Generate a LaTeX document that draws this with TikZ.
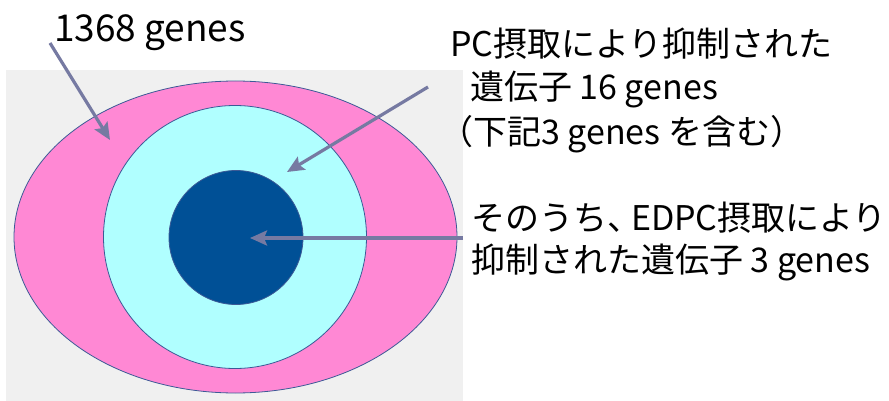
\documentclass[tikz,border=0pt]{standalone}
\usepackage{fontspec}
\setmainfont{Noto Sans CJK JP}
\usetikzlibrary{arrows.meta,shapes.geometric}
\definecolor{bggray}{RGB}{240,240,240}
\definecolor{pinkc}{RGB}{255,136,212}
\definecolor{cyanc}{RGB}{176,255,255}
\definecolor{darkc}{RGB}{0,80,150}
\definecolor{edgec}{RGB}{60,90,150}
\definecolor{arrowc}{RGB}{118,122,162}
\tikzset{
  region/.style={draw=edgec, line width=0.8pt, inner sep=0pt, outer sep=0pt},
  pointer/.style={draw=arrowc, line width=3.2pt, -{Stealth[length=17pt,width=15pt,inset=3pt]}},
  label/.style={inner sep=0pt, outer sep=0pt, anchor=base west, font=\fontsize{34}{40}\selectfont}
}
\begin{document}
\begin{tikzpicture}[x=1pt,y=-1pt]
\useasboundingbox (0,0) rectangle (889,401);
\fill[bggray] (6,70) rectangle (463,401);
\node[region, ellipse, fill=pinkc, minimum width=443pt, minimum height=312pt] (outer) at (235.5,237) {};
\node[region, circle, fill=cyanc, minimum size=263pt] (mid) at (235,237) {};
\node[region, circle, fill=darkc, minimum size=134pt] (inner) at (236,237.5) {};
\node[label, font=\fontsize{37}{44}\selectfont] (t1) at (54,42) {1368 genes};
\node[label] (t2a) at (450,57) {PC摂取により抑制された};
\node[label] (t2b) at (470,100) {遺伝子 16 genes};
\node[label] (t2c) at (439,145) {（下記3 genes を含む）};
\node[label] (t3a) at (471,230) {そのうち、\hspace{-10pt}EDPC摂取により};
\node[label] (t3b) at (471,272) {抑制された遺伝子 3 genes};
\coordinate (s1) at (50,43);
\coordinate (e1) at (110,140);
\coordinate (s2) at (428,87);
\coordinate (e2) at (287,172);
\coordinate (s3) at (463,238);
\coordinate (e3) at (250,238);
\draw[pointer] (s1) -- (e1);
\draw[pointer] (s2) -- (e2);
\draw[pointer] (s3) -- (e3);
\end{tikzpicture}
\end{document}
